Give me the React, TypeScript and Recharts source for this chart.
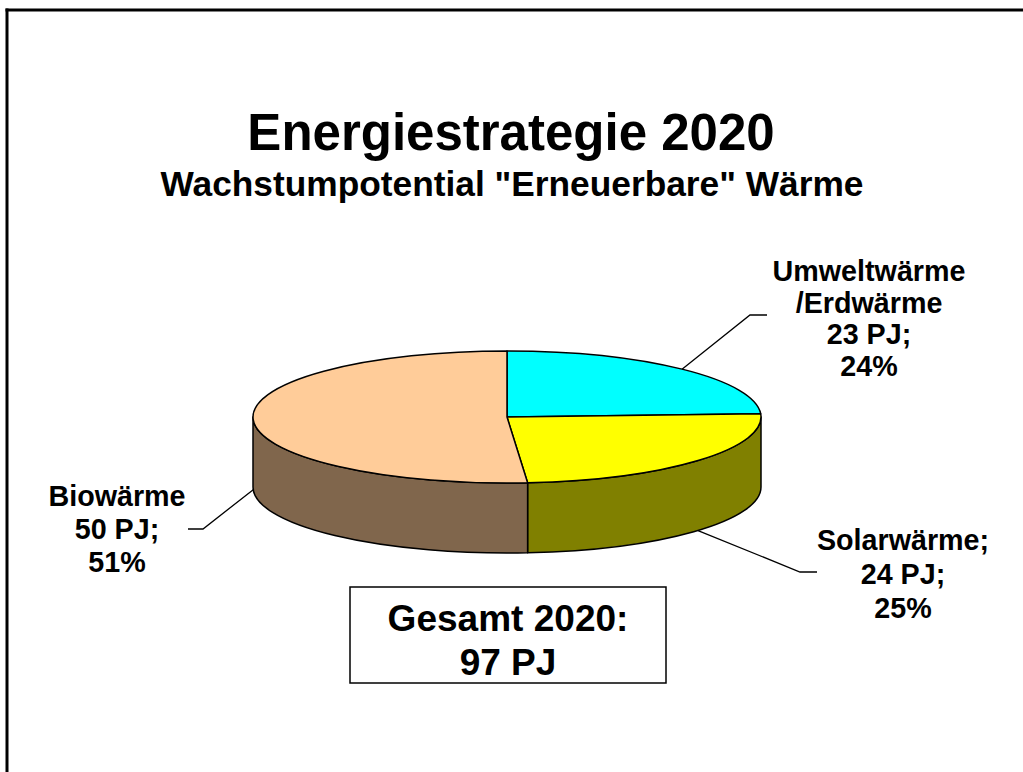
import React from 'react';
import { PieChart, Pie, Cell } from 'recharts';

// ---- data ----
const sliceNames = ['Umweltwärme /Erdwärme', 'Solarwärme', 'Biowärme'];
const sliceValues = [23.4, 23.7, 49.6];
const sliceNameLines = [['Umweltwärme', '/Erdwärme'], ['Solarwärme;'], ['Biowärme']];
const titleText = 'Energiestrategie 2020';
const subtitleText = 'Wachstumpotential "Erneuerbare" Wärme';
const totalCaption = 'Gesamt 2020:';

// ---- styles ----
const topColors = ['#00FFFF', '#FFFF00', '#FFCC99'];
const sideColors = ['#008080', '#808000', '#80664C'];
const FONT = 'Arial, "Liberation Sans", Helvetica, sans-serif';
const W = 1023;
const H = 772;
const PIE_CX = 507;
const PIE_CY = 417;
const PIE_R = 254;
const TILT = 0.26;
const DEPTH = 70;
const LABEL_FS = 28.7;
const LABEL_SX = 1.0;

const labelLayout = [
  { elbow: [750, 315], end: [767, 315], tx: 869, ty: 281, lh: 31.5 },
  { elbow: [800, 572], end: [817, 572], tx: 903, ty: 550, lh: 34 },
  { elbow: [203, 529], end: [188, 529], tx: 117, ty: 506, lh: 33 },
];

const data = sliceNames.map((name, i) => ({ name, value: sliceValues[i] }));
const total = sliceValues.reduce((a, b) => a + b, 0);

const RAD = Math.PI / 180;

function StretchText({ x, y, sx, fs, children }: any) {
  return (
    <text
      transform={`translate(${x} ${y}) scale(${sx} 1)`}
      x={0}
      y={0}
      textAnchor="middle"
      fontFamily={FONT}
      fontWeight="bold"
      fontSize={fs}
      fill="#000"
    >
      {children}
    </text>
  );
}

function render3D(props: any) {
  const { cx, cy, outerRadius, startAngle, endAngle, midAngle, percent, value, index } = props;
  const rx = outerRadius;
  const ry = outerRadius * TILT;
  const pt = (a: number, d = 0) => [cx + rx * Math.cos(a * RAD), cy - ry * Math.sin(a * RAD) + d];
  const s = Math.max(startAngle, endAngle);
  const e = Math.min(startAngle, endAngle);
  const p1 = pt(s);
  const p2 = pt(e);
  const large = s - e > 180 ? 1 : 0;
  const topPath = `M${cx},${cy} L${p1[0]},${p1[1]} A${rx},${ry} 0 ${large} 1 ${p2[0]},${p2[1]} Z`;

  // visible outer wall: angles in [-180, 0]
  let wall: any = null;
  const a1 = Math.max(e, -180);
  const a2 = Math.min(s, 0);
  if (a1 < a2) {
    const t2 = pt(a2);
    const t1 = pt(a1);
    const b1 = pt(a1, DEPTH);
    const b2 = pt(a2, DEPTH);
    const d = `M${t2[0]},${t2[1]} A${rx},${ry} 0 0 1 ${t1[0]},${t1[1]} L${b1[0]},${b1[1]} A${rx},${ry} 0 0 0 ${b2[0]},${b2[1]} Z`;
    wall = <path d={d} fill={sideColors[index]} stroke="#000" strokeWidth={1.5} strokeLinejoin="round" />;
  }

  const mid = midAngle !== undefined ? midAngle : (s + e) / 2;
  const front = Math.sin(mid * RAD) < 0;
  const start = pt(mid, front ? DEPTH : 0);
  const lay = labelLayout[index];
  const lines = [...sliceNameLines[index], `${Math.round(value)} PJ;`, `${Math.round(percent * 100)}%`];

  return (
    <g key={`slice-${index}`}>
      {wall}
      <path d={topPath} fill={topColors[index]} stroke="#000" strokeWidth={1.5} strokeLinejoin="round" />
      <polyline
        points={`${start[0]},${start[1]} ${lay.elbow[0]},${lay.elbow[1]} ${lay.end[0]},${lay.end[1]}`}
        fill="none"
        stroke="#000"
        strokeWidth={1.3}
      />
      {lines.map((ln, k) => (
        <StretchText key={k} x={lay.tx} y={lay.ty + k * lay.lh} sx={LABEL_SX} fs={LABEL_FS}>
          {ln}
        </StretchText>
      ))}
    </g>
  );
}

export default function App() {
  return (
    <div style={{ position: 'absolute', left: 0, top: 0, width: W, height: H, background: '#fff' }}>
      <PieChart width={W} height={H} margin={{ top: 0, right: 0, bottom: 0, left: 0 }}>
        <Pie
          data={data}
          dataKey="value"
          nameKey="name"
          cx={PIE_CX}
          cy={PIE_CY}
          innerRadius={0}
          outerRadius={PIE_R}
          startAngle={90}
          endAngle={-270}
          isAnimationActive={false}
          label={render3D}
          labelLine={false}
          stroke="none"
        >
          {data.map((d) => (
            <Cell key={d.name} fill="transparent" stroke="none" />
          ))}
        </Pie>
      </PieChart>
      <svg
        width={W}
        height={H}
        style={{ position: 'absolute', left: 0, top: 0, pointerEvents: 'none' }}
      >
        <line x1={5.5} y1={10} x2={W} y2={10} stroke="#000" strokeWidth={3} />
        <line x1={7} y1={8.5} x2={7} y2={H} stroke="#000" strokeWidth={3} />
        <StretchText x={511} y={150} sx={1.0} fs={51}>{titleText}</StretchText>
        <StretchText x={512} y={196} sx={1.0} fs={35.3}>{subtitleText}</StretchText>
        <rect x={350} y={587} width={316} height={96} fill="#fff" stroke="#000" strokeWidth={1.5} />
        <StretchText x={508} y={631} sx={1.02} fs={36.3}>{totalCaption}</StretchText>
        <StretchText x={508} y={675} sx={1.02} fs={36.3}>{`${Math.round(total)} PJ`}</StretchText>
      </svg>
    </div>
  );
}
